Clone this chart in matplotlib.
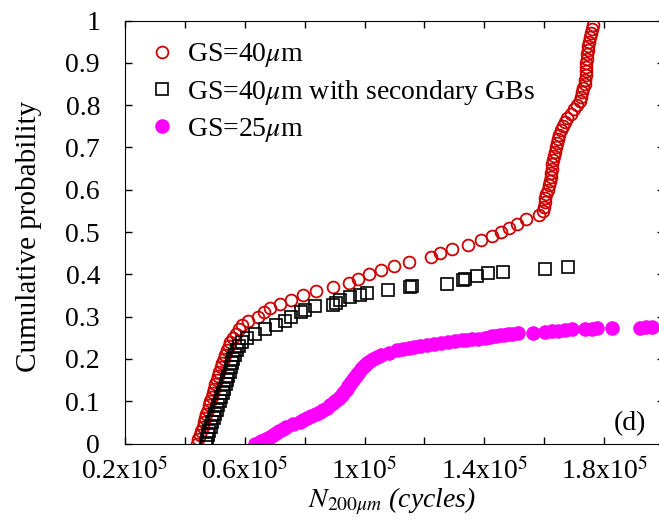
import numpy as np
import matplotlib
matplotlib.use('Agg')
import matplotlib.pyplot as plt
from matplotlib.ticker import FixedLocator

plt.rcParams['font.family'] = ['Liberation Serif', 'DejaVu Serif']
plt.rcParams['mathtext.fontset'] = 'stix'
plt.rcParams['font.size'] = 20

# N_200um in units of 1e5 cycles, cumulative probability
gs40_x = [0.440, 0.445, 0.449, 0.454, 0.459, 0.463, 0.467, 0.472, 0.477, 0.481,
          0.485, 0.489, 0.494, 0.497, 0.502, 0.506, 0.511, 0.515, 0.520, 0.525,
          0.530, 0.534, 0.540, 0.546, 0.552, 0.561, 0.570, 0.580, 0.592, 0.611,
          0.643, 0.663, 0.684, 0.719, 0.754, 0.794, 0.838, 0.894, 0.947, 0.978,
          1.016, 1.055, 1.098, 1.148, 1.222, 1.253, 1.292, 1.344, 1.389, 1.424,
          1.457, 1.482, 1.509, 1.539, 1.582, 1.596, 1.599, 1.601, 1.604, 1.607,
          1.611, 1.615, 1.618, 1.621, 1.622, 1.625, 1.627, 1.629, 1.632, 1.636,
          1.639, 1.643, 1.646, 1.651, 1.656, 1.662, 1.668, 1.676, 1.688, 1.699,
          1.708, 1.718, 1.723, 1.727, 1.731, 1.736, 1.737, 1.738, 1.739, 1.740,
          1.741, 1.742, 1.744, 1.745, 1.746, 1.749, 1.753, 1.756, 1.759, 1.763]
gs40_y = [0.00, 0.01, 0.02, 0.03, 0.04, 0.05, 0.06, 0.07, 0.08, 0.09,
          0.10, 0.11, 0.12, 0.13, 0.14, 0.15, 0.16, 0.17, 0.18, 0.19,
          0.20, 0.21, 0.22, 0.23, 0.24, 0.25, 0.26, 0.27, 0.28, 0.29,
          0.30, 0.31, 0.32, 0.33, 0.34, 0.35, 0.36, 0.37, 0.38, 0.39,
          0.40, 0.41, 0.42, 0.43, 0.44, 0.45, 0.46, 0.47, 0.48, 0.49,
          0.50, 0.51, 0.52, 0.53, 0.54, 0.55, 0.56, 0.57, 0.58, 0.59,
          0.60, 0.61, 0.62, 0.63, 0.64, 0.65, 0.66, 0.67, 0.68, 0.69,
          0.70, 0.71, 0.72, 0.73, 0.74, 0.75, 0.76, 0.77, 0.78, 0.79,
          0.80, 0.81, 0.82, 0.83, 0.84, 0.85, 0.86, 0.87, 0.88, 0.89,
          0.90, 0.91, 0.92, 0.93, 0.94, 0.95, 0.96, 0.97, 0.98, 0.99]

sec_x = [0.470, 0.475, 0.478, 0.482, 0.486, 0.491, 0.496, 0.501, 0.506, 0.511,
         0.516, 0.521, 0.526, 0.531, 0.536, 0.541, 0.545, 0.549, 0.553, 0.558,
         0.562, 0.567, 0.573, 0.580, 0.592, 0.606, 0.634, 0.667, 0.704, 0.733,
         0.756, 0.788, 0.801, 0.834, 0.894, 0.905, 0.918, 0.951, 0.985, 1.008,
         1.078, 1.152, 1.158, 1.275, 1.329, 1.335, 1.375, 1.412, 1.462, 1.602,
         1.679]
sec_y = [0.00, 0.01, 0.02, 0.03, 0.04, 0.05, 0.06, 0.07, 0.08, 0.09,
         0.10, 0.11, 0.12, 0.13, 0.14, 0.15, 0.16, 0.17, 0.18, 0.19,
         0.20, 0.21, 0.22, 0.23, 0.24, 0.25, 0.26, 0.27, 0.28, 0.29,
         0.30, 0.31, 0.316, 0.325, 0.327, 0.333, 0.339, 0.346, 0.351, 0.356,
         0.363, 0.370, 0.372, 0.377, 0.387, 0.389, 0.396, 0.403, 0.405, 0.412,
         0.417]

gs25_x = [0.634, 0.654, 0.671, 0.684, 0.694, 0.704, 0.714, 0.726, 0.738, 0.761,
          0.784, 0.796, 0.808, 0.822, 0.837, 0.851, 0.862, 0.873, 0.884, 0.893,
          0.901, 0.910, 0.918, 0.924, 0.929, 0.935, 0.940, 0.946, 0.951, 0.956,
          0.961, 0.965, 0.970, 0.975, 0.981, 0.988, 0.995, 1.001, 1.008, 1.018,
          1.028, 1.041, 1.055, 1.081, 1.108, 1.128, 1.147, 1.165, 1.185, 1.208,
          1.232, 1.255, 1.278, 1.302, 1.325, 1.340, 1.359, 1.379, 1.402, 1.419,
          1.425, 1.439, 1.452, 1.465, 1.479, 1.492, 1.512, 1.562, 1.602, 1.626,
          1.646, 1.669, 1.693, 1.736, 1.759, 1.776, 1.826, 1.920, 1.940, 1.960]
gs25_y = [0.000, 0.005, 0.010, 0.015, 0.020, 0.025, 0.030, 0.035, 0.040, 0.045,
          0.050, 0.055, 0.060, 0.065, 0.070, 0.075, 0.080, 0.085, 0.090, 0.095,
          0.100, 0.105, 0.110, 0.115, 0.120, 0.125, 0.130, 0.135, 0.140, 0.145,
          0.150, 0.155, 0.160, 0.165, 0.170, 0.175, 0.180, 0.185, 0.190, 0.195,
          0.200, 0.205, 0.210, 0.215, 0.220, 0.223, 0.225, 0.228, 0.230, 0.232,
          0.235, 0.238, 0.240, 0.242, 0.244, 0.245, 0.247, 0.248, 0.250, 0.252,
          0.253, 0.254, 0.256, 0.257, 0.258, 0.259, 0.261, 0.262, 0.264, 0.265,
          0.267, 0.269, 0.270, 0.271, 0.271, 0.272, 0.273, 0.274, 0.275, 0.275]

xticks_major = [0.2, 0.6, 1.0, 1.4, 1.8]
xtick_labels = ['0.2x10$^5$', '0.6x10$^5$', '1x10$^5$', '1.4x10$^5$', '1.8x10$^5$']
xticks_minor = [0.4, 0.8, 1.2, 1.6]
yticks = [0, 0.1, 0.2, 0.3, 0.4, 0.5, 0.6, 0.7, 0.8, 0.9, 1.0]
ytick_labels = ['0', '0.1', '0.2', '0.3', '0.4', '0.5', '0.6', '0.7', '0.8', '0.9', '1']

fig = plt.figure(figsize=(6.59, 5.23), dpi=100)
ax = fig.add_axes([125/659, (523-443.5)/523, 539/659, 423/523])

ax.plot(gs40_x, gs40_y, 'o', mfc='none', mec='#cc0000', ms=8.5, mew=1.3,
        label='GS=40$\\mu$m')
ax.plot(sec_x, sec_y, 's', mfc='none', mec='black', ms=8, mew=1.2,
        label='GS=40$\\mu$m with secondary GBs')
ax.plot(gs25_x, gs25_y, 'o', color='#ff00ff', ms=10.5, mew=0,
        label='GS=25$\\mu$m')

ax.set_xlim(0.2, 2.0)
ax.set_ylim(0, 1)
ax.xaxis.set_major_locator(FixedLocator(xticks_major))
ax.set_xticklabels(xtick_labels)
ax.xaxis.set_minor_locator(FixedLocator(xticks_minor))
ax.set_yticks(yticks)
ax.set_yticklabels(ytick_labels)
ax.tick_params(which='both', direction='in', top=True, right=True,
               length=5, width=1)
ax.tick_params(axis='y', pad=18)
ax.tick_params(axis='x', pad=10)

ax.set_ylabel('Cumulative probability', fontsize=21)
ax.yaxis.set_label_coords(-0.154, 0.49)
ax.set_xlabel('$N_{\\mathit{200}\\mu m}$ (cycles)', style='italic')
ax.xaxis.set_label_coords(0.495, -0.1)

ax.text(0.937, 0.047, '(d)', transform=ax.transAxes, ha='center', va='center')

ax.legend(loc='upper left', bbox_to_anchor=(0.048, 0.951), frameon=False,
          handlelength=0.8, handletextpad=0.5, labelspacing=0.32,
          borderpad=0, borderaxespad=0)

plt.savefig('out.png', dpi=100)
